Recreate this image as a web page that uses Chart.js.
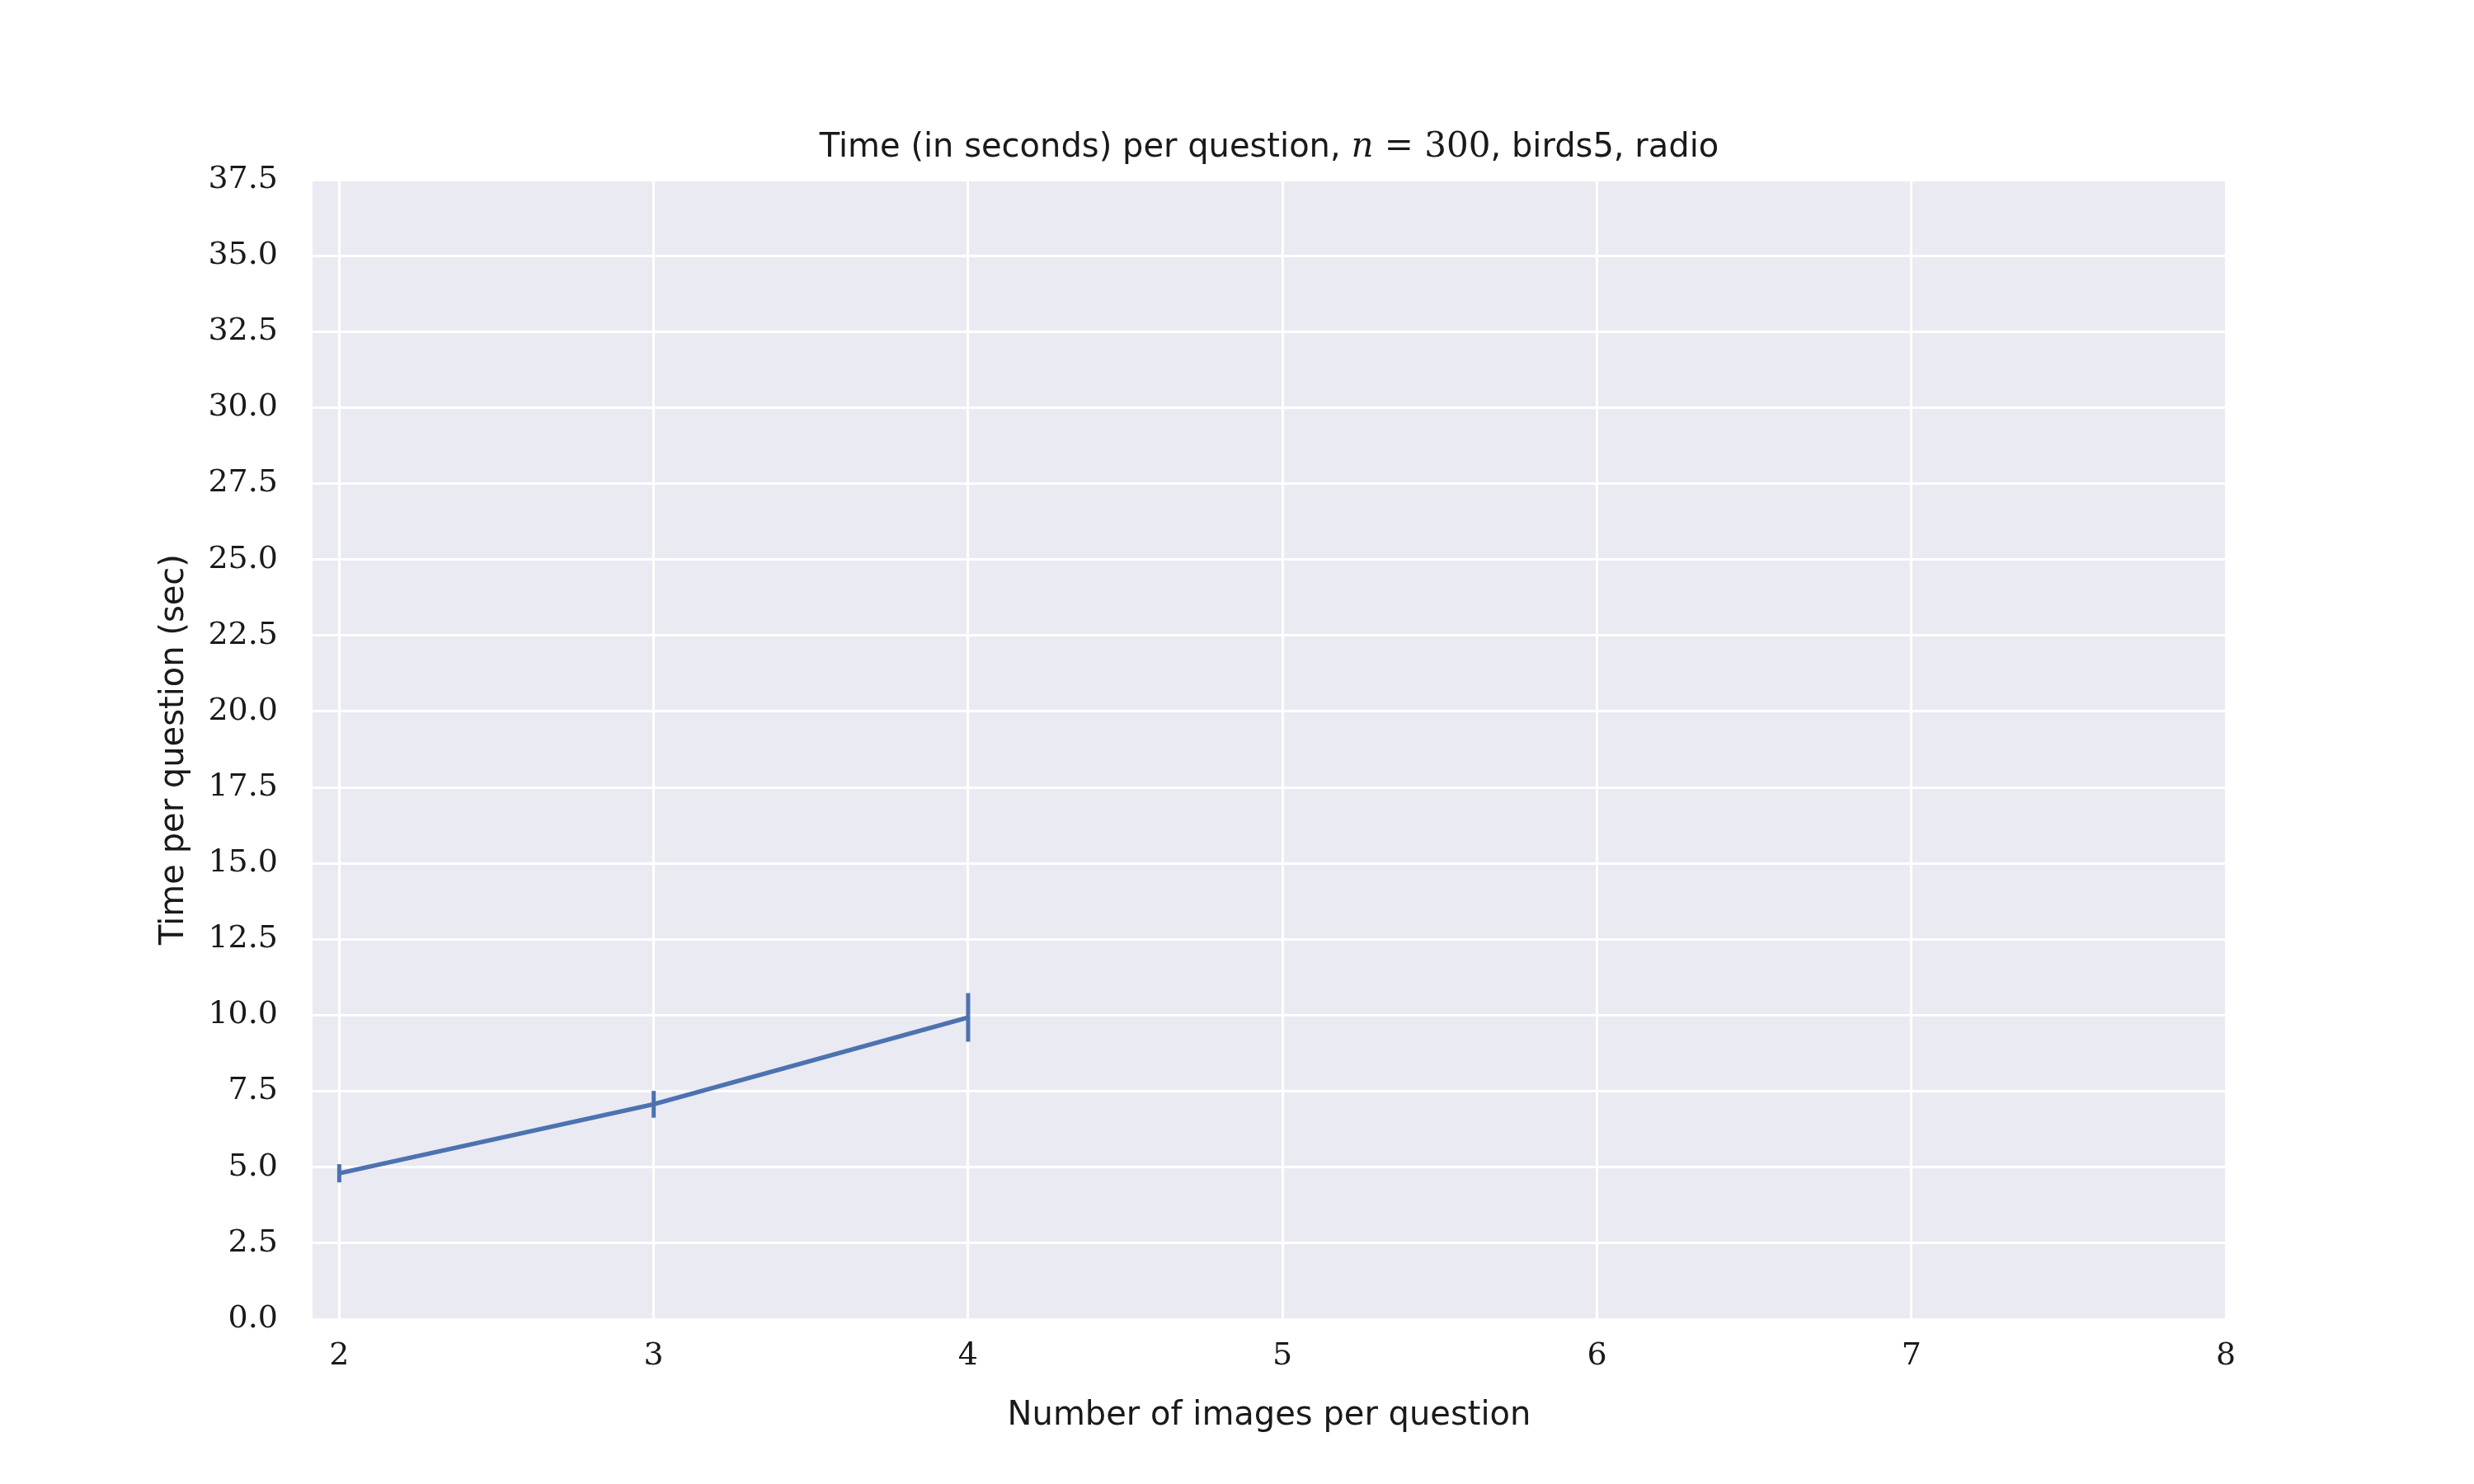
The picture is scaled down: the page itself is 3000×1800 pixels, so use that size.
<!DOCTYPE html>
<html><head><meta charset="utf-8">
<script src="https://cdn.jsdelivr.net/npm/chart.js@4.4.0/dist/chart.umd.min.js"></script>
<style>html,body{margin:0;padding:0;background:#fff}#c{display:block}</style>
</head><body>
<canvas id="c" width="3000" height="1800"></canvas>
<script>
const xValues = [2, 3, 4];
const yValues = [4.8, 7.07, 9.93];
const yErrors = [0.3, 0.44, 0.8];
const xTicks = [2, 3, 4, 5, 6, 7, 8];
const yTicks = [0, 2.5, 5, 7.5, 10, 12.5, 15, 17.5, 20, 22.5, 25, 27.5, 30, 32.5, 35, 37.5];
const LEFT = 379, RIGHT = 2699, TOP = 218, BOTTOM = 1600;
const SERIF = '"DejaVu Serif", "Liberation Serif", serif';
const SANS = '"DejaVu Sans", Lato, sans-serif';
const lineColor = '#4c72b0';

const bgPlugin = {
  id: 'bg',
  beforeDraw(ch) {
    const a = ch.chartArea, c = ch.ctx;
    c.save(); c.fillStyle = '#eaeaf2'; c.fillRect(a.left, a.top, a.right - a.left, a.bottom - a.top); c.restore();
  }
};
const errPlugin = {
  id: 'err',
  afterDatasetsDraw(ch) {
    const c = ch.ctx, xs = ch.scales.x, ys = ch.scales.y;
    c.save(); c.strokeStyle = lineColor; c.lineWidth = 5; c.lineCap = 'butt';
    xValues.forEach((x, i) => {
      const px = xs.getPixelForValue(x);
      c.beginPath();
      c.moveTo(px, ys.getPixelForValue(yValues[i] - yErrors[i]));
      c.lineTo(px, ys.getPixelForValue(yValues[i] + yErrors[i]));
      c.stroke();
    });
    c.restore();
  }
};
const titlePlugin = {
  id: 'ttl',
  afterDraw(ch) {
    const c = ch.ctx;
    const parts = [
      ['Time (in seconds) per question, ', '40px ' + SANS],
      ['n', 'italic 42px ' + SERIF],
      [' = 300', '42px ' + SERIF],
      [', birds5, radio', '40px ' + SANS]
    ];
    c.save(); c.fillStyle = '#1a1a1a'; c.textBaseline = 'alphabetic';
    let w = 0;
    parts.forEach(p => { c.font = p[1]; w += c.measureText(p[0]).width; });
    let x = (LEFT + RIGHT) / 2 - w / 2;
    parts.forEach(p => { c.font = p[1]; c.fillText(p[0], x, 190); x += c.measureText(p[0]).width; });
    // axis titles
    c.font = '40px ' + SANS; c.textAlign = 'center'; c.textBaseline = 'middle';
    c.fillText('Number of images per question', (LEFT + RIGHT) / 2, 1718);
    c.translate(212, (TOP + BOTTOM) / 2); c.rotate(-Math.PI / 2);
    c.fillText('Time per question (sec)', 0, 0);
    c.restore();
  }
};

new Chart(document.getElementById('c'), {
  type: 'line',
  data: { datasets: [{
    data: xValues.map((x, i) => ({ x: x, y: yValues[i] })),
    borderColor: lineColor, borderWidth: 5.5, pointRadius: 0, tension: 0
  }]},
  options: {
    responsive: false, animation: false, devicePixelRatio: 1,
    layout: { padding: { top: TOP, right: 3000 - RIGHT, left: 0, bottom: 0 } },
    plugins: { legend: { display: false }, tooltip: { enabled: false } },
    scales: {
      x: {
        type: 'linear', min: 1.915, max: 8,
        afterBuildTicks: s => { s.ticks = xTicks.map(v => ({ value: v })); },
        afterFit: s => { s.height = 1800 - BOTTOM; },
        grid: { color: '#ffffff', lineWidth: 3, drawTicks: false },
        border: { display: false },
        ticks: { color: '#1a1a1a', font: { family: SERIF, size: 38 }, padding: 22, callback: v => String(v) }
      },
      y: {
        min: 0, max: 37.5,
        afterBuildTicks: s => { s.ticks = yTicks.map(v => ({ value: v })); },
        afterFit: s => { s.width = LEFT; },
        grid: { color: '#ffffff', lineWidth: 3, drawTicks: false },
        border: { display: false },
        ticks: { color: '#1a1a1a', font: { family: SERIF, size: 38 }, padding: 42, callback: v => v.toFixed(1) }
      }
    }
  },
  plugins: [bgPlugin, errPlugin, titlePlugin]
});
</script>
</body></html>
